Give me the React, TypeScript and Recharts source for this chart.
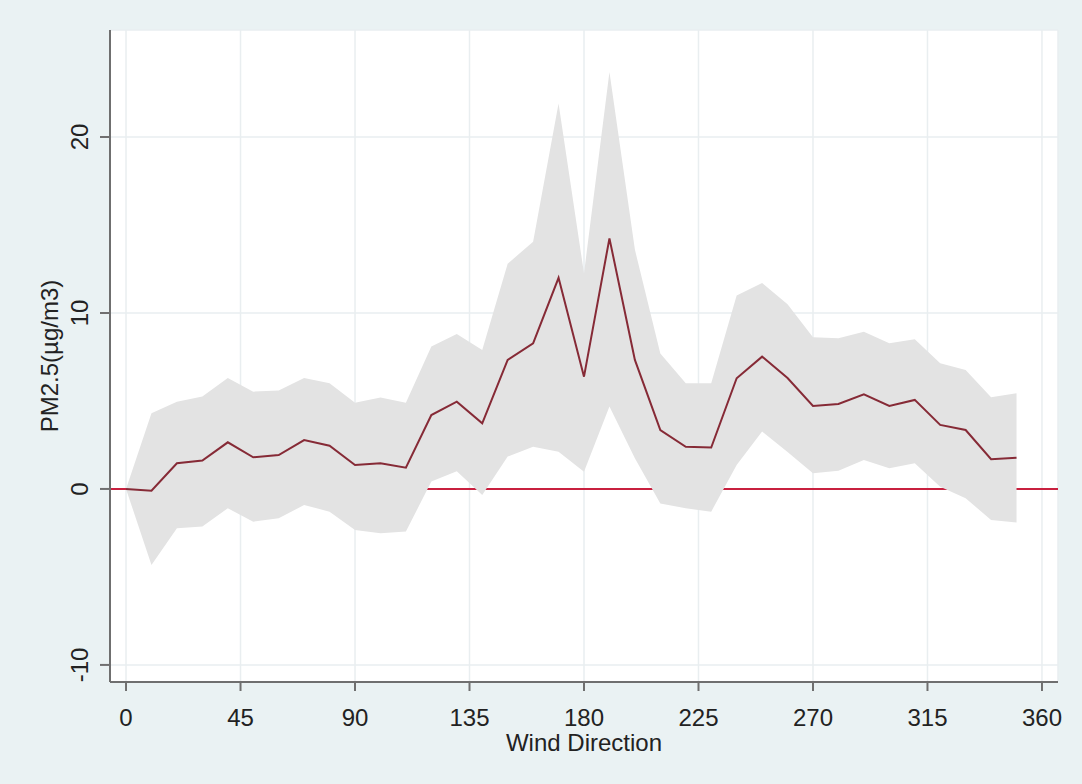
import {
  ComposedChart, Area, Line, XAxis, YAxis, CartesianGrid,
} from 'recharts'

const directions = [
  0, 10, 20, 30, 40, 50, 60, 70, 80, 90, 100, 110,
  120, 130, 140, 150, 160, 170, 180, 190, 200, 210, 220, 230,
  240, 250, 260, 270, 280, 290, 300, 310, 320, 330, 340, 350,
]
const pm25 = [
  0.0, -0.1, 1.46, 1.61, 2.65, 1.8, 1.93, 2.78, 2.46, 1.36, 1.46, 1.21,
  4.2, 4.96, 3.73, 7.33, 8.28, 12.0, 6.38, 14.24, 7.33, 3.35, 2.4, 2.35,
  6.29, 7.52, 6.3, 4.72, 4.83, 5.38, 4.72, 5.06, 3.64, 3.35, 1.69, 1.78,
]
const upper = [
  0, 4.3, 4.96, 5.25, 6.3, 5.53, 5.6, 6.3, 6.0, 4.9, 5.2, 4.9,
  8.1, 8.8, 7.9, 12.8, 14.05, 21.9, 12.25, 23.7, 13.6, 7.7, 6.0, 6.0,
  11.0, 11.7, 10.5, 8.62, 8.56, 8.94, 8.28, 8.5, 7.14, 6.76, 5.21, 5.44,
]
const lower = [
  0, -4.32, -2.23, -2.14, -1.1, -1.86, -1.67, -0.91, -1.29, -2.33, -2.52, -2.42,
  0.42, 1.0, -0.34, 1.84, 2.4, 2.12, 0.98, 4.68, 1.74, -0.82, -1.1, -1.29,
  1.36, 3.26, 2.1, 0.89, 1.04, 1.65, 1.18, 1.46, 0.13, -0.53, -1.76, -1.91,
]
const xTicks = [0, 45, 90, 135, 180, 225, 270, 315, 360]
const yTicks = [-10, 0, 10, 20]
// y = 0 line, drawn under the confidence band
const zeroLine = [0]

const FONT = '"Liberation Sans", Arial, Helvetica, sans-serif'
const BG = '#eaf2f3'

const data = directions.map((d, i) => ({
  dir: d,
  pm: pm25[i],
  band: [lower[i], upper[i]],
}))

function XTick(props: any) {
  return (
    <text x={props.x} y={726} textAnchor="middle" fontSize={24}
      fontFamily={FONT} fill="#222">
      {props.payload.value}
    </text>
  )
}

function YTick(props: any) {
  const x = 88
  return (
    <text x={x} y={props.y} transform={`rotate(-90, ${x}, ${props.y})`}
      textAnchor="middle" fontSize={24} fontFamily={FONT} fill="#222">
      {props.payload.value}
    </text>
  )
}

export default function App() {
  return (
    <div style={{
      position: 'absolute', left: 0, top: 0, width: 1082, height: 784, background: BG,
    }}>
      <ComposedChart width={1082} height={784} data={data}
        margin={{ top: 30, right: 24, bottom: 42, left: 0 }}>
        <CartesianGrid stroke="#e9eef0" strokeWidth={1.5} fill="#ffffff" />
        <CartesianGrid
          vertical={false}
          horizontalValues={zeroLine}
          stroke="#c8203f"
          strokeWidth={2}
          fill="none"
        />
        <XAxis
          dataKey="dir"
          type="number"
          domain={[-6.3, 366.3]}
          ticks={xTicks}
          allowDataOverflow
          height={60}
          tickSize={9}
          stroke="#6f6f6f"
          strokeWidth={2}
          tick={XTick}
          label={() => (
            <text x={584} y={751} textAnchor="middle" fontSize={24}
              fontFamily={FONT} fill="#222">Wind Direction</text>
          )}
        />
        <YAxis
          type="number"
          domain={[-10.97, 26.08]}
          ticks={yTicks}
          allowDataOverflow
          width={110}
          tickSize={10}
          stroke="#6f6f6f"
          strokeWidth={2}
          tick={YTick}
          label={() => (
            <text x={58} y={356} transform="rotate(-90, 58, 356)" textAnchor="middle"
              fontSize={24} fontFamily={FONT} fill="#222">PM2.5(µg/m3)</text>
          )}
        />
        <Area
          dataKey="band"
          type="linear"
          fill="#e3e3e3"
          fillOpacity={1}
          stroke="none"
          isAnimationActive={false}
        />
        <Line
          dataKey="pm"
          type="linear"
          stroke="#862a36"
          strokeWidth={2}
          dot={false}
          isAnimationActive={false}
        />
      </ComposedChart>
    </div>
  )
}
